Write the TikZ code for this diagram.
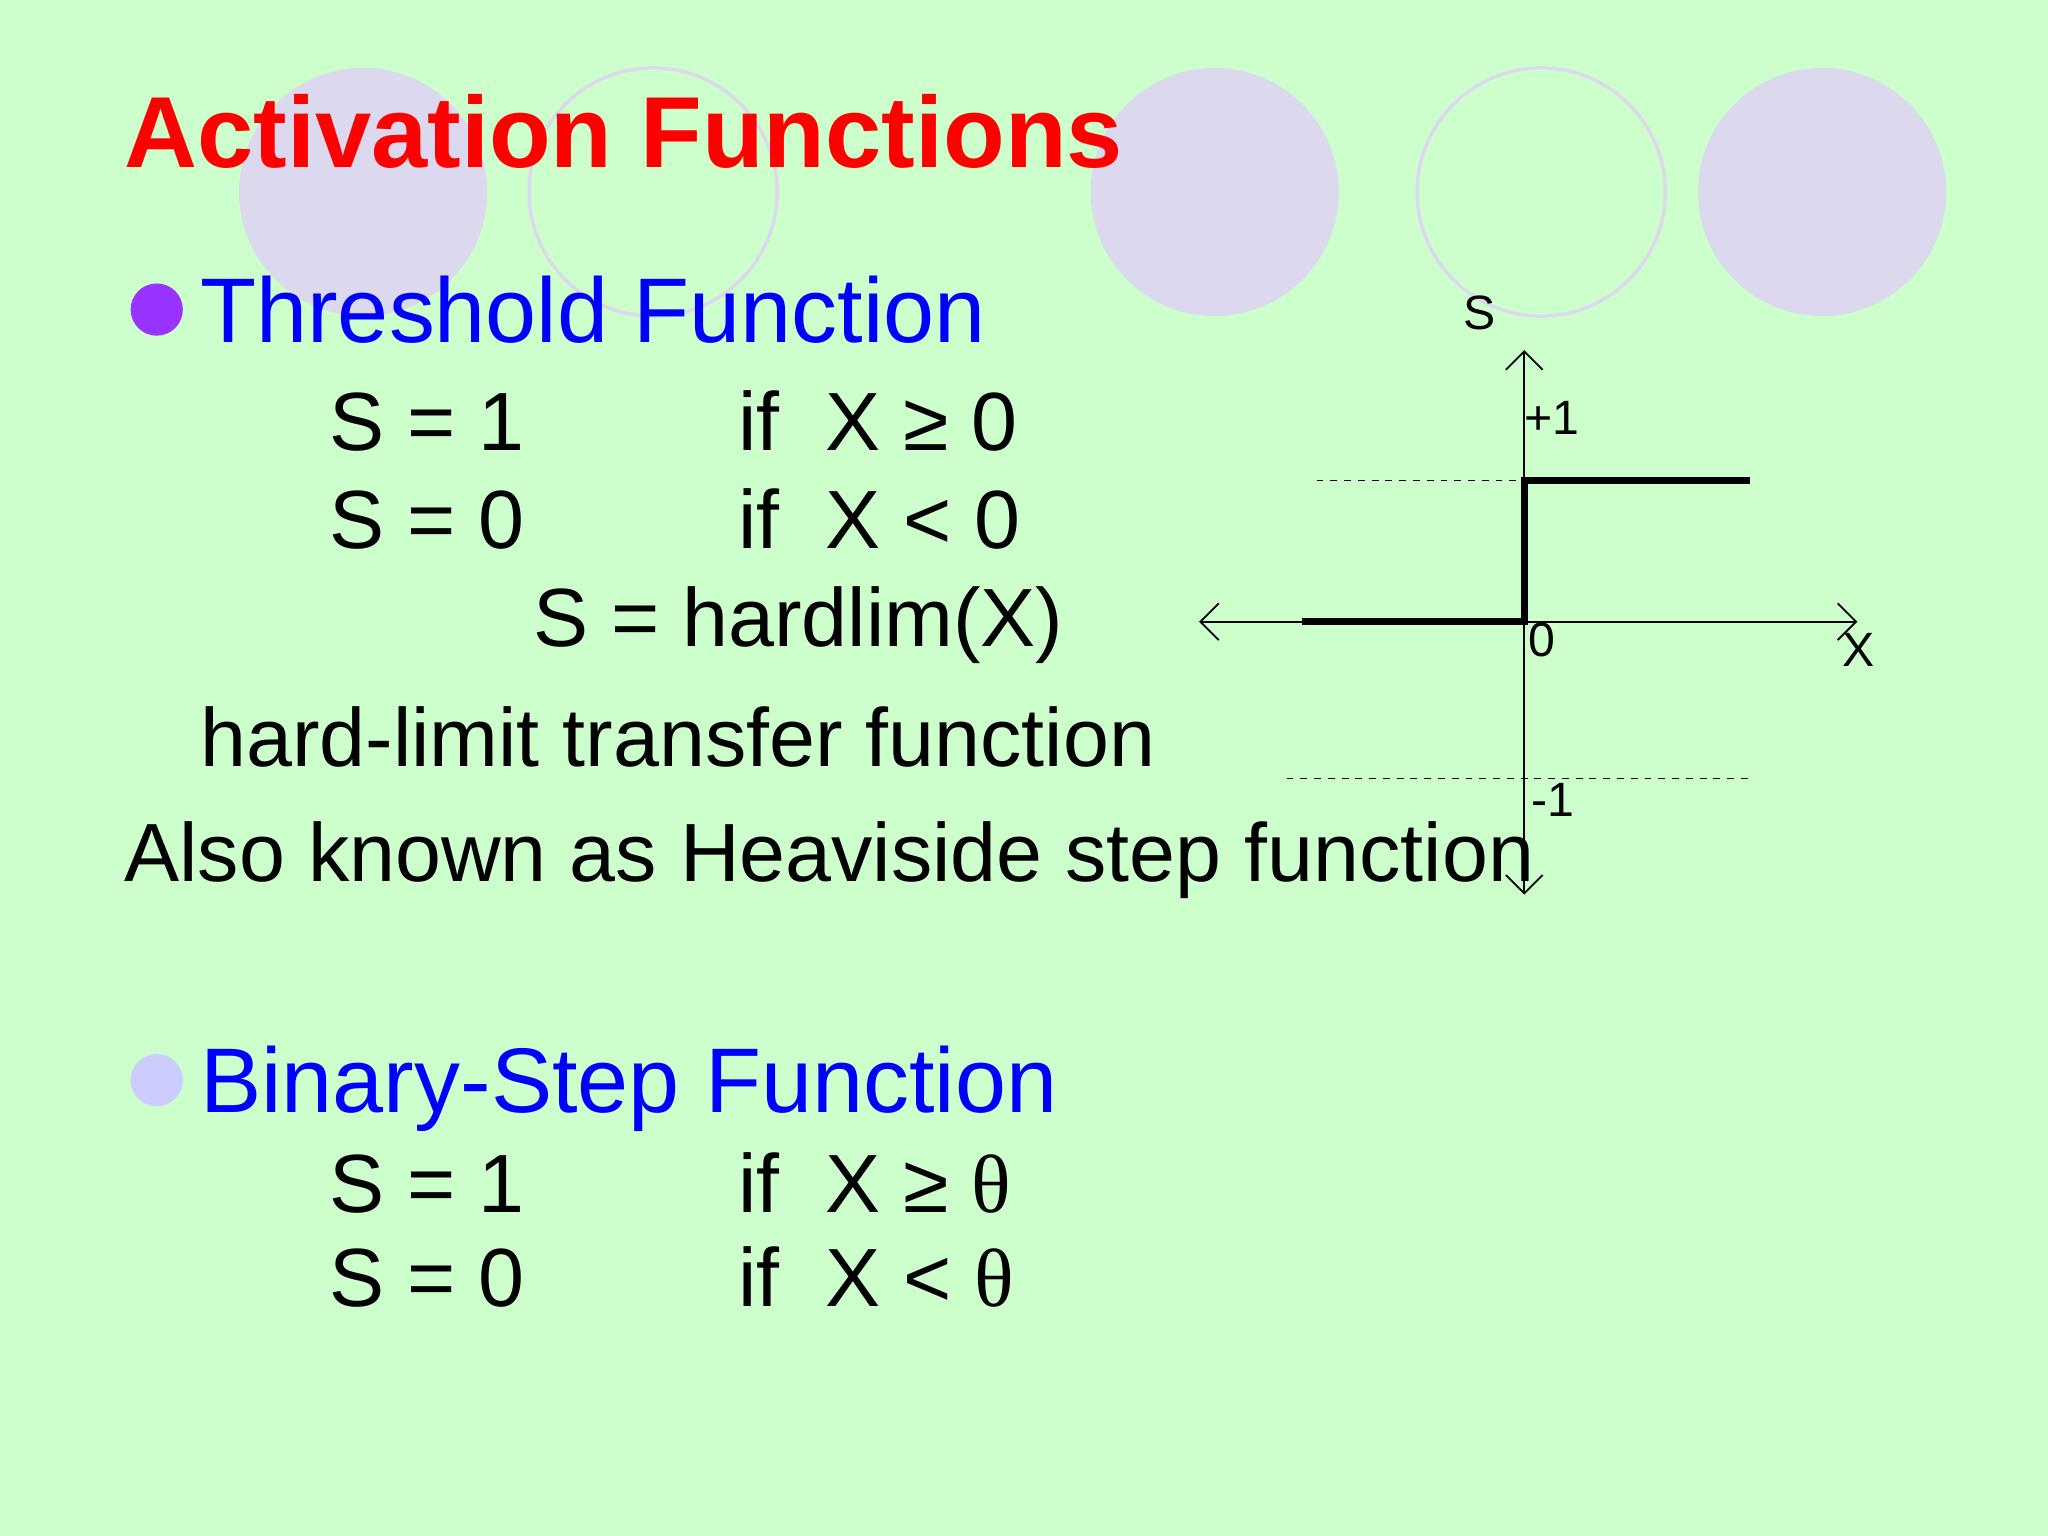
\documentclass[tikz,border=0pt]{standalone}
\usepackage{fontspec}
\setmainfont{Liberation Sans}
\newfontfamily\serf{Liberation Serif}
\usetikzlibrary{arrows.meta}
\definecolor{bg}{HTML}{CCFFCC}
\definecolor{lav}{HTML}{DCD9EE}
\definecolor{pur}{HTML}{9933FF}
\definecolor{lb}{HTML}{CCCCFF}
\begin{document}
\begin{tikzpicture}[x=0.02cm,y=-0.02cm,
  tx/.style={anchor=base west,inner sep=0},
  eq/.style={tx,font=\fontsize{36}{40}\selectfont},
  sm/.style={tx,font=\fontsize{21}{24}\selectfont},
  hd/.style={tx,font=\fontsize{40}{44}\selectfont,text=blue}]
\fill[bg] (0,0) rectangle (1568,1176);
\fill[lav] (278,147) circle (95);
\draw[lav,line width=1.5pt] (500,147) circle (95);
\fill[lav] (930,147) circle (95);
\draw[lav,line width=1.5pt] (1180,147) circle (95);
\fill[lav] (1395,147) circle (95);
\node[tx,font=\fontsize{44}{48}\selectfont\bfseries,text=red] (title) at (95,128) {Activation Functions};
\fill[pur] (120,237) circle (20);
\node[hd] (h1) at (153,262) {Threshold Function};
\node[eq] (a1) at (252,345) {S = 1};
\node[eq] (b1) at (565,345) {if~~X ≥ 0};
\node[eq] (a2) at (252,420) {S = 0};
\node[eq] (b2) at (565,420) {if~~X < 0};
\node[eq] (hl) at (408,495) {S = hardlim(X)};
\node[eq] (ht) at (153,587) {hard-limit transfer function};
\node[eq] (ak) at (95,675) {Also known as Heaviside step function};
\fill[lb] (120,827) circle (20);
\node[hd] (h2) at (153,852) {Binary-Step Function};
\node[eq] (c1) at (252,928) {S = 1};
\node[eq] (d1) at (565,928) {if~~X ≥ {\serf θ}};
\node[eq] (c2) at (252,1000) {S = 0};
\node[eq] (d2) at (565,1000) {if~~X < {\serf θ}};
% graph
\coordinate (yb) at (1167,685); \coordinate (yt) at (1167,268);
\coordinate (xl) at (918,476); \coordinate (xr) at (1422,476);
\draw[{Straight Barb[length=8pt]}-{Straight Barb[length=8pt]},line width=0.8pt] (yb) -- (yt);
\draw[{Straight Barb[length=8pt]}-{Straight Barb[length=8pt]},line width=0.8pt] (xl) -- (xr);
\coordinate (p1) at (1008,368); \coordinate (p2) at (1340,368);
\coordinate (m1) at (985,596); \coordinate (m2) at (1340,596);
\draw[dashed,line width=0.6pt] (p1) -- (p2);
\draw[dashed,line width=0.6pt] (m1) -- (m2);
\coordinate (s0) at (997,476); \coordinate (s1) at (1167,476);
\coordinate (s2) at (1167,368); \coordinate (s3) at (1340,368);
\draw[line width=3pt] (s0) -- (s1) -- (s2) -- (s3);
\node[sm] (lS) at (1120,252) {S};
\node[sm] (lp) at (1167,333) {+1};
\node[sm] (l0) at (1170,503) {0};
\node[sm] (lX) at (1410,510) {X};
\node[sm] (lm) at (1172,625) {-1};
\end{tikzpicture}
\end{document}
